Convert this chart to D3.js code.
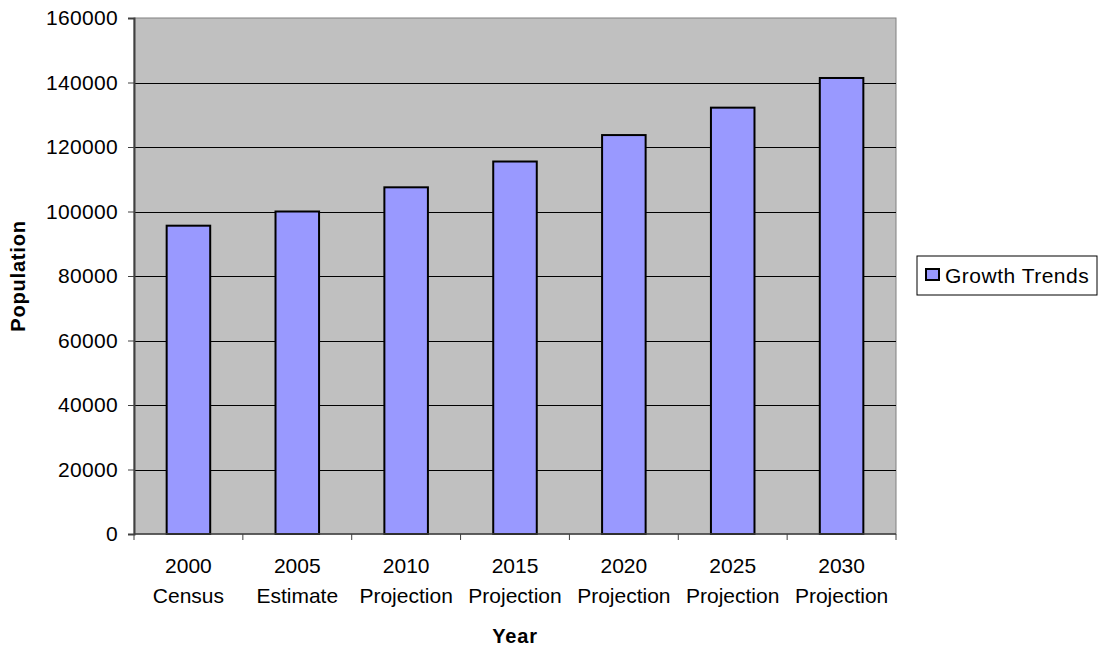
<!DOCTYPE html>
<html>
<head>
<meta charset="utf-8">
<script src="https://cdn.jsdelivr.net/npm/d3@7"></script>
<style>
  body { margin: 0; background: #fff; }
  text { font-family: Arial, "Liberation Sans", sans-serif; }
</style>
</head>
<body>
<script>
const years = ['2000', '2005', '2010', '2015', '2020', '2025', '2030']
const kinds = ['Census', 'Estimate', 'Projection', 'Projection', 'Projection', 'Projection', 'Projection']
const population = [95600, 100000, 107500, 115500, 123700, 132200, 141400]
const yTicks = [0, 20000, 40000, 60000, 80000, 100000, 120000, 140000, 160000]
const seriesName = 'Growth Trends'

const w = 1099
const h = 652
const plotLeft = 134, plotRight = 896, plotTop = 18, plotBottom = 534

const svg = d3.select('body')
    .append('svg')
    .attr('width', w)
    .attr('height', h)

const x = d3.scaleBand()
    .domain(years)
    .range([plotLeft, plotRight])
    .paddingInner(0.6)
    .paddingOuter(0.3)

const xOuter = d3.scaleBand()
    .domain(years)
    .range([plotLeft, plotRight])

const y = d3.scaleLinear()
    .domain([0, 160000])
    .range([plotBottom, plotTop])

// plot background
svg.append('rect')
    .attr('x', plotLeft)
    .attr('y', plotTop)
    .attr('width', plotRight - plotLeft)
    .attr('height', plotBottom - plotTop)
    .attr('fill', '#c0c0c0')
    .attr('stroke', '#808080')
    .attr('stroke-width', 1)

// gridlines
svg.append('g')
    .selectAll('line')
    .data(yTicks.filter(d => d > 0 && d < 160000))
    .enter()
    .append('line')
    .attr('x1', plotLeft)
    .attr('x2', plotRight)
    .attr('y1', d => Math.round(y(d)) + 0.5)
    .attr('y2', d => Math.round(y(d)) + 0.5)
    .attr('stroke', '#000')
    .attr('stroke-width', 1)

// bars
svg.append('g')
    .selectAll('rect')
    .data(population)
    .enter()
    .append('rect')
    .attr('x', (d, i) => x(years[i]))
    .attr('y', d => y(d))
    .attr('width', x.bandwidth())
    .attr('height', d => plotBottom - y(d))
    .attr('fill', '#9999ff')
    .attr('stroke', '#000')
    .attr('stroke-width', 2)

// y axis
const yAxis = svg.append('g')
    .attr('transform', `translate(${plotLeft},0)`)
    .call(d3.axisLeft(y).tickValues(yTicks).tickSize(6).tickPadding(10).tickFormat(d3.format('d')))
yAxis.select('.domain').attr('stroke', '#404040').attr('stroke-width', 2)
yAxis.selectAll('.tick line').attr('stroke', '#404040')
yAxis.selectAll('.tick text')
    .attr('font-size', 21)
    .attr('fill', '#000')
    .attr('letter-spacing', 0.3)
    .style('font-family', 'Arial, "Liberation Sans", sans-serif')

// x axis
const xAxis = svg.append('g')
    .attr('transform', `translate(0,${plotBottom})`)
xAxis.append('line')
    .attr('x1', plotLeft)
    .attr('x2', plotRight)
    .attr('y1', 0)
    .attr('y2', 0)
    .attr('stroke', '#404040')
    .attr('stroke-width', 1.5)
xAxis.selectAll('line.tk')
    .data(years.concat(['end']))
    .enter()
    .append('line')
    .attr('class', 'tk')
    .attr('x1', (d, i) => i < years.length ? xOuter(d) : plotRight)
    .attr('x2', (d, i) => i < years.length ? xOuter(d) : plotRight)
    .attr('y1', 0)
    .attr('y2', 6)
    .attr('stroke', '#404040')

const labels = xAxis.selectAll('text.lbl')
    .data(years)
    .enter()
    .append('text')
    .attr('class', 'lbl')
    .attr('text-anchor', 'middle')
    .attr('font-size', 21)
    .attr('x', d => xOuter(d) + xOuter.bandwidth() / 2)
labels.append('tspan')
    .attr('x', d => xOuter(d) + xOuter.bandwidth() / 2)
    .attr('y', 39)
    .text(d => d)
labels.append('tspan')
    .attr('x', d => xOuter(d) + xOuter.bandwidth() / 2)
    .attr('y', 69)
    .text((d, i) => kinds[i])

// axis titles
svg.append('text')
    .attr('x', (plotLeft + plotRight) / 2)
    .attr('y', 643)
    .attr('text-anchor', 'middle')
    .attr('font-size', 20)
    .attr('font-weight', 'bold')
    .attr('letter-spacing', 0.8)
    .text('Year')

svg.append('text')
    .attr('transform', `translate(25,${(plotTop + plotBottom) / 2}) rotate(-90)`)
    .attr('text-anchor', 'middle')
    .attr('font-size', 20)
    .attr('font-weight', 'bold')
    .attr('letter-spacing', 0.8)
    .text('Population')

// legend
const legend = svg.append('g')
    .attr('transform', 'translate(917,256)')
legend.append('rect')
    .attr('width', 180)
    .attr('height', 39)
    .attr('fill', '#fff')
    .attr('stroke', '#000')
    .attr('stroke-width', 1)
legend.append('rect')
    .attr('x', 9)
    .attr('y', 13)
    .attr('width', 13)
    .attr('height', 11)
    .attr('fill', '#9999ff')
    .attr('stroke', '#000')
    .attr('stroke-width', 2)
legend.append('text')
    .attr('x', 28)
    .attr('y', 27)
    .attr('font-size', 21)
    .attr('letter-spacing', 0.5)
    .text(seriesName)
</script>
</body>
</html>
